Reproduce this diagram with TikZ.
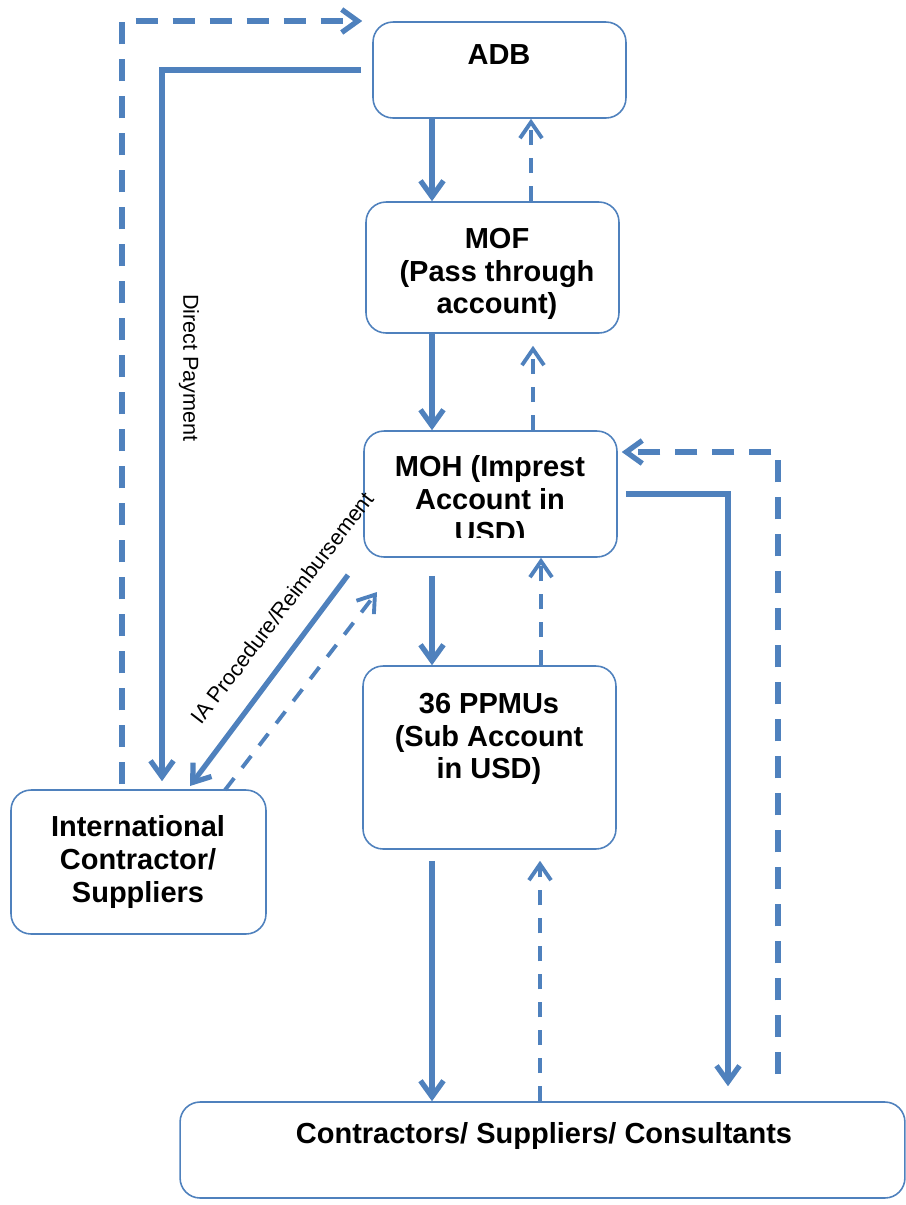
\documentclass[tikz,border=0pt]{standalone}
\usepackage{fontspec}
\setmainfont{Liberation Sans}
\usepackage{tikz}
\usepackage{xcolor}
\usetikzlibrary{arrows.meta,calc}
\definecolor{flowblue}{HTML}{4F81BD}
\definecolor{ink}{HTML}{000000}
\tikzset{
  flowbox/.style={draw=flowblue,fill=white,line width=0.9pt,rounded corners=0.4cm,
                  inner sep=0pt},
  flowtxt/.style={text=ink,align=center,inner sep=0pt,
                  font=\fontsize{16.5}{18.6}\selectfont\bfseries},
  sidetxt/.style={text=ink,inner sep=0pt,font=\fontsize{12.3}{14}\selectfont},
  solidarr/.style={-{Straight Barb[length=3.2mm,width=4.6mm]},line width=3pt,
                   draw=flowblue},
  longdash/.style={-{Straight Barb[length=3.2mm,width=4.6mm]},line width=3pt,
                   draw=flowblue,dash pattern=on 0.44cm off 0.3cm},
  shortdash/.style={-{Straight Barb[length=3.2mm,width=4.4mm]},line width=2.2pt,
                    draw=flowblue,dash pattern=on 0.3cm off 0.26cm}
}
\begin{document}
\begin{tikzpicture}[x=0.02cm,y=-0.02cm]
    \useasboundingbox (0,0) rectangle (906,1205);

    \node[flowbox,minimum width=5.06cm,minimum height=1.92cm] (adb) at (499.5,70) {};
    \node[flowbox,minimum width=5.06cm,minimum height=2.62cm] (mof) at (492.5,267.5) {};
    \node[flowbox,minimum width=5.06cm,minimum height=2.52cm] (moh) at (490.5,494) {};
    \node[flowbox,minimum width=5.06cm,minimum height=3.66cm] (ppmu) at (489.5,757.5) {};
    \node[flowbox,minimum width=5.10cm,minimum height=2.88cm] (intl) at (138.5,862) {};
    \node[flowbox,minimum width=14.5cm,minimum height=1.92cm] (contr) at (542.5,1150) {};

    \node[flowtxt] (adb-t) at (499,55) {ADB};
    \node[flowtxt] (mof-t) at (497,274) {MOF\\(Pass through\\account)};
    \begin{scope}
      \clip (364,431) rectangle (617,537);
      \node[flowtxt] (moh-t) at (490,502) {MOH (Imprest\\Account in\\USD)};
    \end{scope}
    \node[flowtxt] (ppmu-t) at (489,739) {36 PPMUs\\(Sub Account\\in USD)};
    \node[flowtxt] (intl-t) at (138,862) {International\\Contractor/\\Suppliers};
    \node[flowtxt] (contr-t) at (544,1136) {Contractors/ Suppliers/ Consultants};

    \coordinate (dn) at (432,0);
    \draw[solidarr] (adb.south -| dn) -- (mof.north -| dn);
    \draw[solidarr] (mof.south -| dn) -- (moh.north -| dn);
    \draw[solidarr,shorten <=0.36cm] (moh.south -| dn) -- (ppmu.north -| dn);
    \draw[solidarr,shorten <=0.22cm] (ppmu.south -| dn) -- (contr.north -| dn);

    \draw[shortdash] (mof.north -| 531,0) -- (adb.south -| 531,0);
    \draw[shortdash,shorten >=0.24cm] (moh.north -| 533,0) -- (mof.south -| 533,0);
    \draw[shortdash] (ppmu.north -| 541,0) -- (moh.south -| 541,0);
    \draw[shortdash,shorten >=0.22cm] (contr.north -| 540,0) -- (ppmu.south -| 540,0);

    \coordinate (tl) at (122,21);
    \draw[longdash,shorten <=0.1cm,shorten >=0.2cm]
      (intl.north -| tl) -- (tl) -- (tl -| adb.west);
    \coordinate (dp) at (162,0);
    \draw[solidarr,shorten <=0.22cm,shorten >=0.16cm] (adb.west) -| (intl.north -| dp);
    \node[sidetxt,rotate=-90] (dp-t) at (189,368) {Direct Payment};

    \coordinate (ia-a) at (348,575);
    \coordinate (ia-b) at (190,786);
    \coordinate (ia-c) at (225,790);
    \coordinate (ia-d) at (377,592);
    \draw[solidarr] (ia-a) -- (ia-b);
    \draw[shortdash] (ia-c) -- (ia-d);
    \node[sidetxt,rotate=52.5] (ia-t) at (282,608) {IA Procedure/Reimbursement};

    \coordinate (rs) at (728,0);
    \draw[solidarr,shorten <=0.16cm,shorten >=0.3cm] (moh.east) -| (contr.north -| rs);
    \coordinate (rd) at (778,452);
    \draw[longdash,shorten <=0.54cm,shorten >=0.08cm]
      (contr.north -| rd) -- (rd) -- (rd -| moh.east);
\end{tikzpicture}
\end{document}
